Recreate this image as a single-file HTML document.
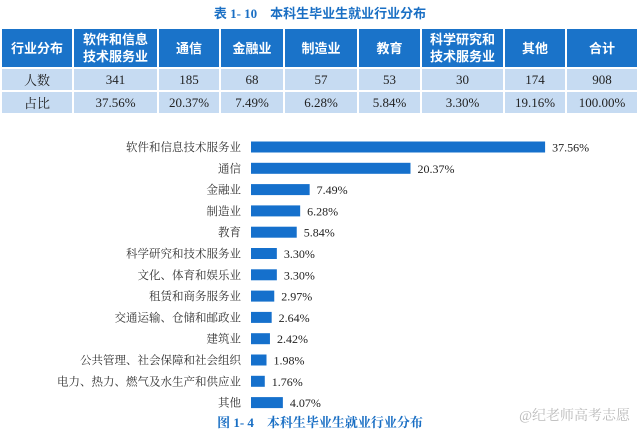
<!DOCTYPE html>
<html><head><meta charset="utf-8"><style>
body{margin:0;width:640px;height:441px;background:#fff;overflow:hidden;font-family:"Liberation Serif","Noto Serif CJK SC",serif;position:relative}
.t{position:absolute;left:0;top:3px;width:640px;text-align:center;color:#1a6fc4;font:bold 13px "Liberation Serif","Noto Sans CJK SC",sans-serif}
table{position:absolute;left:0px;top:27px;border-collapse:separate;border-spacing:2px;width:639px;table-layout:fixed}
td{text-align:center;font-size:13px;padding:0}
tr.h td{background:#1a73c9;color:#fff;font:bold 13px "Liberation Sans","Noto Sans CJK SC",sans-serif;height:38px;line-height:17px}
tr.r td{background:#c6dbf2;color:#222;height:21px}
svg{position:absolute;left:0;top:0}
</style></head><body>
<div class="t">表 1- 10　本科生毕业生就业行业分布</div>
<table>
<colgroup><col style="width:70px"><col style="width:83px"><col style="width:60px"><col style="width:62px"><col style="width:72px"><col style="width:61px"><col style="width:81px"><col style="width:60px"><col style="width:70px"></colgroup>
<tr class="h"><td>行业分布</td><td>软件和信息<br>技术服务业</td><td>通信</td><td>金融业</td><td>制造业</td><td>教育</td><td>科学研究和<br>技术服务业</td><td>其他</td><td>合计</td></tr>
<tr class="r"><td>人数</td><td>341</td><td>185</td><td>68</td><td>57</td><td>53</td><td>30</td><td>174</td><td>908</td></tr>
<tr class="r"><td>占比</td><td>37.56%</td><td>20.37%</td><td>7.49%</td><td>6.28%</td><td>5.84%</td><td>3.30%</td><td>19.16%</td><td>100.00%</td></tr>
</table>
<svg id="c" width="640" height="441"></svg>
<script>
const categories=["软件和信息技术服务业","通信","金融业","制造业","教育","科学研究和技术服务业","文化、体育和娱乐业","租赁和商务服务业","交通运输、仓储和邮政业","建筑业","公共管理、社会保障和社会组织","电力、热力、燃气及水生产和供应业","其他"];
const values=[37.56,20.37,7.49,6.28,5.84,3.30,3.30,2.97,2.64,2.42,1.98,1.76,4.07];
const valueLabels=["37.56%","20.37%","7.49%","6.28%","5.84%","3.30%","3.30%","2.97%","2.64%","2.42%","1.98%","1.76%","4.07%"];
const NS="http://www.w3.org/2000/svg",svg=document.getElementById('c');
const x=v=>251+v*7.83, y=i=>147+i*21.3;
function mk(t,a,txt){const e=document.createElementNS(NS,t);for(const k in a)e.setAttribute(k,a[k]);if(txt!=null)e.textContent=txt;svg.appendChild(e);return e;}
categories.forEach((c,i)=>{
 const l=mk('text',{x:241,y:y(i)+4,'text-anchor':'end','font-size':11.5,fill:'#333'},c);
 
 
 const b=mk('rect',{x:x(0),y:y(i)-5.5,width:x(values[i])-x(0),height:11,fill:'#1570cc'});
 
 
 const v=mk('text',{x:x(values[i])+7,y:y(i)+4.5,'font-size':12,fill:'#222'},valueLabels[i]);
 
 
});
const cap=mk('text',{x:320,y:427,'text-anchor':'middle','font-size':13,'font-weight':'bold',fill:'#1a6fc4'},'图 1- 4　本科生毕业生就业行业分布');


const wm=mk('text',{x:630,y:420,'text-anchor':'end','font-size':14,fill:'#bbb'},'@纪老师高考志愿');


</script>
</body></html>
